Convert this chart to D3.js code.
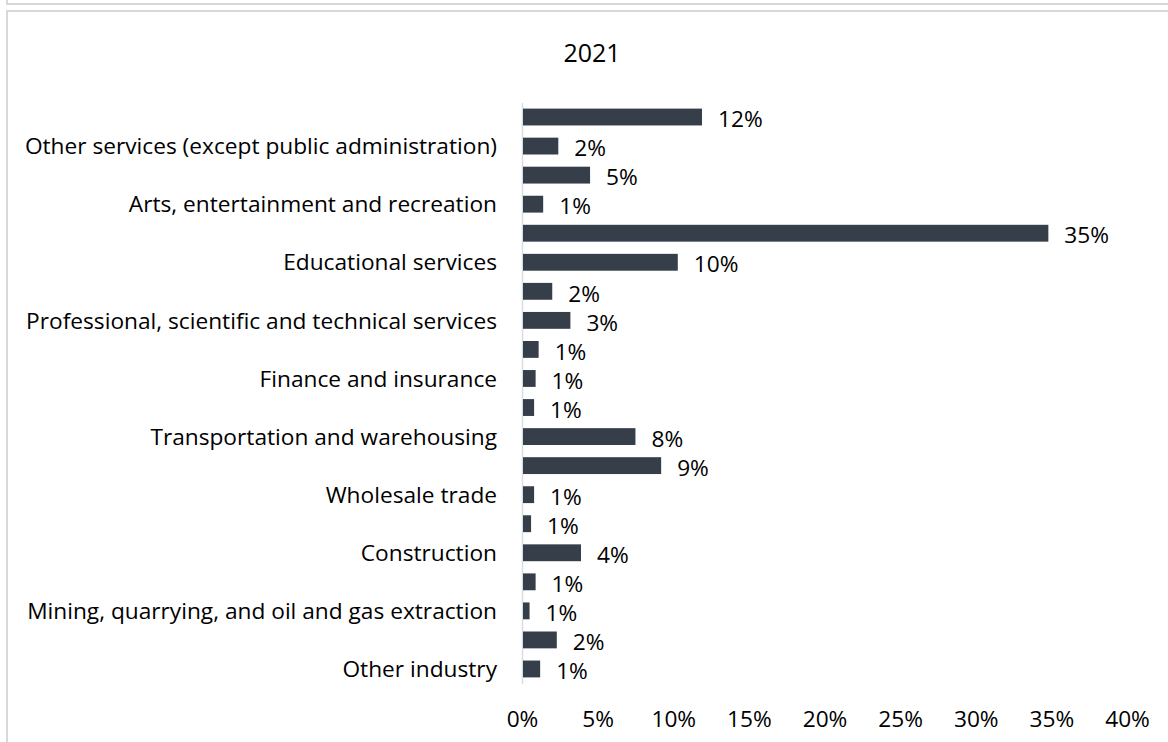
<!DOCTYPE html>
<html>
<head>
<meta charset="utf-8">
<script src="https://cdn.jsdelivr.net/npm/d3@7"></script>
<style>
  html, body { margin: 0; padding: 0; background: #fff; }
  svg { display: block; font-family: 'Open Sans', 'Noto Sans', sans-serif; }
</style>
</head>
<body>
<div id="chart"></div>
<script>
// rows top to bottom; only every other row carries a visible label
const categories = [
  '', 'Other services (except public administration)',
  '', 'Arts, entertainment and recreation',
  '', 'Educational services',
  '', 'Professional, scientific and technical services',
  '', 'Finance and insurance',
  '', 'Transportation and warehousing',
  '', 'Wholesale trade',
  '', 'Construction',
  '', 'Mining, quarrying, and oil and gas extraction',
  '', 'Other industry'
]
const values = [
  11.9, 2.4, 4.5, 1.4, 34.8, 10.3, 2.0, 3.2, 1.1, 0.9,
  0.8, 7.5, 9.2, 0.8, 0.6, 3.9, 0.9, 0.5, 2.3, 1.2
]
const xTicks = [0, 5, 10, 15, 20, 25, 30, 35, 40]
const title = '2021'

const width = 1168
const height = 742
const marginLeft = 522
const marginRight = 41
const marginTop = 102.5
const marginBottom = 58.5
const font = "'Open Sans', 'Noto Sans', sans-serif"
const fontSize = 22.7
const barColor = '#353e49'
const frameColor = '#d9d9d7'

const svg = d3.select('#chart').append('svg')
  .attr('width', width)
  .attr('height', height)
  .attr('viewBox', [0, 0, width, height])

// panel frames
svg.append('path')
  .attr('fill', 'none')
  .attr('stroke', frameColor)
  .attr('stroke-width', 2)
  .attr('d', `M7,-2V4H${width + 2}`)
svg.append('rect')
  .attr('x', 7).attr('y', 11)
  .attr('width', width + 10).attr('height', height + 10)
  .attr('fill', 'none')
  .attr('stroke', frameColor)
  .attr('stroke-width', 2)

const I = d3.range(values.length)

const x = d3.scaleLinear()
  .domain([0, 40])
  .range([marginLeft, width - marginRight])

const y = d3.scaleBand()
  .domain(I)
  .range([marginTop, height - marginBottom])
  .paddingInner(0.42)
  .paddingOuter(0.21)

svg.append('text')
  .attr('x', 592)
  .attr('y', 62)
  .attr('text-anchor', 'middle')
  .attr('font-size', 25)
  .attr('fill', '#000')
  .text(title)

// category axis
svg.append('g')
  .attr('transform', `translate(${marginLeft},0)`)
  .call(d3.axisLeft(y).tickSize(0).tickPadding(25).tickFormat(i => categories[i]))
  .attr('font-family', font)
  .attr('font-size', fontSize)
  .call(g => g.select('.domain').attr('stroke', '#d5dde6').attr('stroke-width', 1.5))
  .call(g => g.selectAll('text')
    .attr('fill', '#000')
    .attr('dy', '0.36em'))

// value axis (labels only)
svg.append('g')
  .attr('transform', `translate(0,${height - 34})`)
  .call(d3.axisBottom(x).tickValues(xTicks).tickSize(0).tickFormat(d => d + '%'))
  .attr('font-family', font)
  .attr('font-size', fontSize)
  .call(g => g.select('.domain').remove())
  .call(g => g.selectAll('text').attr('fill', '#000'))

svg.append('g')
  .selectAll('rect')
  .data(I)
  .join('rect')
  .attr('x', x(0) + 1)
  .attr('y', i => y(i))
  .attr('width', i => x(values[i]) - x(0) - 1)
  .attr('height', y.bandwidth())
  .attr('fill', barColor)

svg.append('g')
  .attr('font-size', fontSize)
  .selectAll('text')
  .data(I)
  .join('text')
  .attr('x', i => x(values[i]) + 16)
  .attr('y', i => y(i) + y.bandwidth() / 2)
  .attr('dy', '0.45em')
  .attr('fill', '#000')
  .text(i => Math.round(values[i]) + '%')
</script>
</body>
</html>
